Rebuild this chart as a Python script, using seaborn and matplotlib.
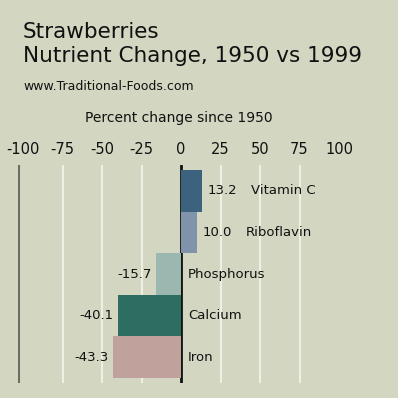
import matplotlib
matplotlib.use("Agg")
import matplotlib.pyplot as plt
import seaborn as sns
import pandas as pd

# data
nutrients = ["Vitamin C", "Riboflavin", "Phosphorus", "Calcium", "Iron"]
pct_change = [13.2, 10.0, -15.7, -40.1, -43.3]
bar_colors = ["#3d627e", "#7f93ab", "#9bb8b0", "#2e6d62", "#c0a19b"]
x_ticks = [-100, -75, -50, -25, 0, 25, 50, 75, 100]

bg = "#d3d7c1"
sns.set_theme(style="white")
plt.rcParams["font.family"] = ["DejaVu Sans"]

df = pd.DataFrame({"nutrient": nutrients, "change": pct_change})

fig = plt.figure(figsize=(3.98, 3.98), dpi=100, facecolor=bg)
ax = fig.add_axes([18 / 398, 0.0377, 321 / 398, 0.5477])
ax.set_facecolor(bg)

# grid lines behind the bars
for t in x_ticks:
    if t in (-100, 0, 100):
        continue
    ax.axvline(t, color="#eef0e4", lw=1.5, zorder=0)
ax.axvline(-103.2, color="#6b6d60", lw=2.2, zorder=0)

sns.barplot(data=df, x="change", y="nutrient", hue="nutrient",
            palette=bar_colors, legend=False, width=1.0, orient="h",
            saturation=1, ax=ax, zorder=2, linewidth=0)
ax.axvline(0, color="#111111", lw=2, zorder=1)

# value and name labels
for i, (name, val) in enumerate(zip(nutrients, pct_change)):
    if val >= 0:
        ax.annotate(f"{val:.1f}", (val, i), xytext=(6, 0), textcoords="offset pixels",
                    ha="left", va="center", fontsize=9.5, color="#111111")
        ax.annotate(name, (val, i), xytext=(49, 0), textcoords="offset pixels",
                    ha="left", va="center", fontsize=9.5, color="#111111")
    else:
        ax.annotate(f"{val:.1f}", (val, i), xytext=(-4, 0), textcoords="offset pixels",
                    ha="right", va="center", fontsize=9.5, color="#111111")
        ax.annotate(name, (0, i), xytext=(7, 0), textcoords="offset pixels",
                    ha="left", va="center", fontsize=9.5, color="#111111")

ax.set_xlim(-103.2, 100)
ax.set_ylim(4.62, -0.62)
ax.set_xticks(x_ticks)
ax.set_xticklabels([str(t) for t in x_ticks])
ax.xaxis.tick_top()
ax.xaxis.set_label_position("top")
ax.tick_params(axis="x", length=0, pad=6, labelsize=10.5, colors="#111111")
ax.set_yticks([])
ax.set_ylabel("")
ax.set_xlabel("Percent change since 1950", fontsize=10, color="#111111", labelpad=14)
for s in ax.spines.values():
    s.set_visible(False)

fig.text(0.058, 0.905, "Strawberries", fontsize=15.5, color="#111111", va="baseline")
fig.text(0.058, 0.845, "Nutrient Change, 1950 vs 1999", fontsize=15.5, color="#111111", va="baseline")
fig.text(0.058, 0.775, "www.Traditional-Foods.com", fontsize=9, color="#111111", va="baseline")

fig.savefig("out.png", dpi=100, facecolor=bg)
